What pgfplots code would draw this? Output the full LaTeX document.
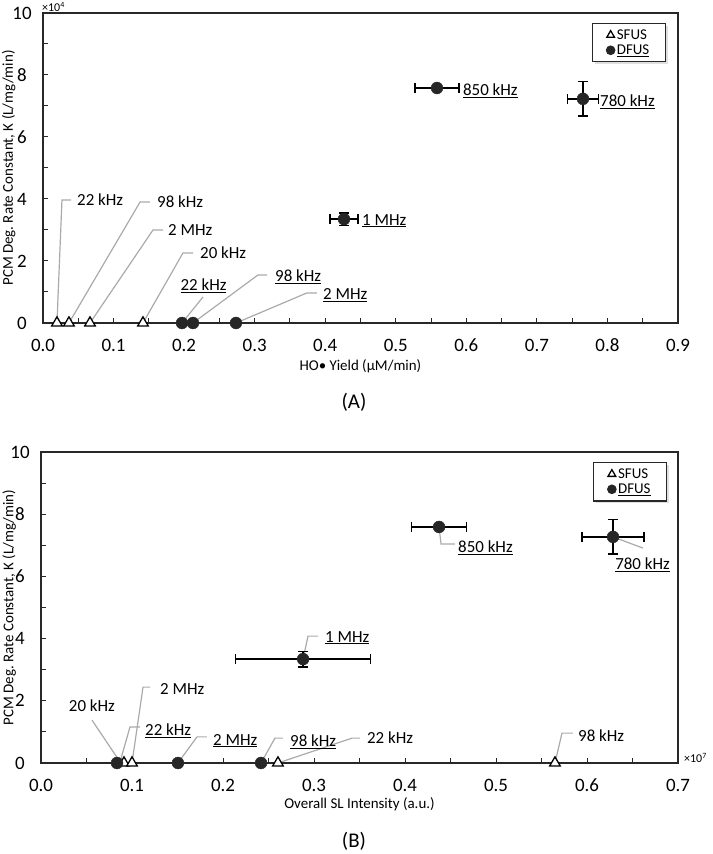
\documentclass[border=0pt]{standalone}
\usepackage{fontspec}
\setmainfont{Carlito}
\usepackage{pgfplots}
\pgfplotsset{compat=1.18}
\usetikzlibrary{shadows}
\frenchspacing
\definecolor{leader}{RGB}{170,170,170}
\definecolor{axcol}{RGB}{40,40,40}
\newcommand{\tfont}{\fontsize{19}{19}\selectfont}
\newcommand{\afont}{\fontsize{17}{17}\selectfont}
\newcommand{\lfont}{\fontsize{15}{15}\selectfont}
\tikzset{lab/.style={font=\afont, inner sep=0pt, text=black}}
\pgfplotsset{
  panel/.style={
    scale only axis, clip=false,
    ymin=0, ymax=10,
    ytick={0,2,4,6,8,10}, minor y tick num=1,
    minor x tick num=1,
    tick align=inside, tick pos=left,
    major tick length=5bp, minor tick length=5bp,
    every tick/.style={axcol, line width=1bp},
    axis line style={axcol, line width=1.3bp},
    /pgf/number format/assume math mode=true,
    tick label style={font=\tfont},
    xticklabel style={/pgf/number format/.cd, fixed, fixed zerofill, precision=1,
      /tikz/.cd, anchor=center, yshift=-22bp},
    yticklabel style={/pgf/number format/.cd, fixed, precision=0,
      /tikz/.cd, anchor=center, xshift=-21bp},
    label style={font=\lfont},
    xlabel style={anchor=center},
    ylabel style={anchor=center},
    legend cell align=left,
    legend style={draw=axcol, line width=1.2bp, fill=white, font=\lfont,
      drop shadow={opacity=0.25, shadow xshift=2.5bp, shadow yshift=-2.5bp},
      inner xsep=14bp, inner ysep=4bp, row sep=0bp},
  },
  lead/.style={forget plot, leader, line width=1.2bp, no markers},
  sfus/.style={only marks, mark=triangle*, mark size=6.2,
    mark options={fill=white, draw=black, line width=1.3bp},
    legend image code/.code={\draw[##1, mark size=4.5] plot coordinates {(0.1cm,0cm)};}},
  dfus/.style={only marks, mark=*, mark size=6,
    mark options={fill=black!85, draw=black!85},
    legend image code/.code={\draw[##1, mark size=4.2] plot coordinates {(0.1cm,0cm)};},
    error bars/.cd, x dir=both, x explicit, y dir=both, y explicit,
    error bar style={black, line width=1.3bp},
    error mark options={black, line width=1.3bp, mark size=5bp, rotate=90}},
}
\begin{document}
\begin{tikzpicture}
\useasboundingbox (0,0) rectangle (713bp,854bp);

% ---------------- Panel A ----------------
\begin{axis}[panel,
  at={(43bp,531bp)}, anchor=south west,
  width=635bp, height=310bp,
  xmin=0, xmax=0.9,
  xtick={0,0.1,0.2,0.3,0.4,0.5,0.6,0.7,0.8,0.9},
  xlabel={HO• Yield (µM/min)},
  ylabel={PCM Deg. Rate Constant, K (L/mg/min)},
  xlabel style={at={(axis description cs:0.5,-0.138)}},
  ylabel style={at={(axis description cs:-0.054,0.5)}},
  legend style={at={(0.981,0.968)}, anchor=north east},
]
\addplot[lead] coordinates {(0.0198,0) (0.0269,3.97) (0.0397,3.97)};
\addplot[lead] coordinates {(0.0368,0) (0.1375,3.90) (0.1516,3.90)};
\addplot[lead] coordinates {(0.0666,0) (0.1559,3.00) (0.1701,3.00)};
\addplot[lead] coordinates {(0.1417,0) (0.1984,2.26) (0.2126,2.26)};
\addplot[lead] coordinates {(0.197,0) (0.2268,0.84)};
\addplot[lead] coordinates {(0.2126,0) (0.3047,1.55) (0.3175,1.55)};
\addplot[lead] coordinates {(0.2735,0) (0.3741,0.97) (0.3883,0.97)};

\addplot[sfus] coordinates {(0.0198,0) (0.0368,0) (0.0666,0) (0.1417,0)};
\addlegendentry{SFUS}
\addplot[dfus] table[x=x, y=y, x error=ex, y error=ey] {
x      y     ex     ey
0.197  0     0      0
0.2126 0     0      0
0.2735 0     0      0
0.4266 3.35  0.020  0.20
0.5584 7.58  0.031  0.06
0.7653 7.23  0.022  0.55
};
\addlegendentry{\underline{DFUS}}

\node[lab, anchor=west] at (axis cs:0.0482,3.97) {22 kHz};
\node[lab, anchor=west] at (axis cs:0.1616,3.90) {98 kHz};
\node[lab, anchor=west] at (axis cs:0.1772,3.00) {2 MHz};
\node[lab, anchor=west] at (axis cs:0.2225,2.26) {20 kHz};
\node[lab, anchor=south] at (axis cs:0.2275,0.98) {\underline{22 kHz}};
\node[lab, anchor=west] at (axis cs:0.3288,1.48) {\underline{98 kHz}};
\node[lab, anchor=west] at (axis cs:0.3968,0.90) {\underline{2 MHz}};
\node[lab, anchor=west] at (axis cs:0.4521,3.30) {\underline{1 MHz}};
\node[lab, anchor=west] at (axis cs:0.5952,7.50) {\underline{850 kHz}};
\node[lab, anchor=west] at (axis cs:0.7894,7.14) {\underline{780 kHz}};
\end{axis}

% ---------------- Panel B ----------------
\begin{axis}[panel,
  at={(41bp,91bp)}, anchor=south west,
  width=637bp, height=311bp,
  xmin=0, xmax=0.7,
  xtick={0,0.1,0.2,0.3,0.4,0.5,0.6,0.7},
  xlabel={Overall SL Intensity (a.u.)},
  ylabel={PCM Deg. Rate Constant, K (L/mg/min)},
  xlabel style={at={(axis description cs:0.5,-0.131)}},
  ylabel style={at={(axis description cs:-0.050,0.5)}},
  legend style={at={(0.983,0.968)}, anchor=north east},
]
\addplot[lead] coordinates {(0.4374,7.59) (0.4396,7.04) (0.4549,7.04)};
\addplot[lead] coordinates {(0.6286,7.27) (0.6615,6.91)};
\addplot[lead] coordinates {(0.288,3.34) (0.2934,4.08) (0.3044,4.08)};
\addplot[lead] coordinates {(0.100,0) (0.1121,2.44) (0.1198,2.44)};
\addplot[lead] coordinates {(0.0865,0.05) (0.056,1.38)};
\addplot[lead] coordinates {(0.0868,0.03) (0.0978,1.16) (0.1088,1.16)};
\addplot[lead] coordinates {(0.1505,0) (0.1714,0.84) (0.1824,0.84)};
\addplot[lead] coordinates {(0.2418,0) (0.2571,0.80) (0.2659,0.80)};
\addplot[lead] coordinates {(0.2604,0) (0.3418,0.80) (0.3505,0.80)};
\addplot[lead] coordinates {(0.5648,0) (0.5725,0.96) (0.5846,0.96)};

\addplot[sfus] coordinates {(0.0912,0) (0.100,0) (0.2604,0) (0.5648,0)};
\addlegendentry{SFUS}
\addplot[dfus] table[x=x, y=y, x error=ex, y error=ey] {
x      y     ex     ey
0.0835 0     0      0
0.1505 0     0      0
0.2418 0     0      0
0.288  3.34  0.074  0.25
0.4374 7.59  0.030  0.06
0.6286 7.27  0.034  0.55
};
\addlegendentry{\underline{DFUS}}

\node[lab, anchor=west] at (axis cs:0.4582,6.93) {\underline{850 kHz}};
\node[lab, anchor=center] at (axis cs:0.661,6.38) {\underline{780 kHz}};
\node[lab, anchor=west] at (axis cs:0.3121,4.03) {\underline{1 MHz}};
\node[lab, anchor=west] at (axis cs:0.1308,2.38) {2 MHz};
\node[lab, anchor=center] at (axis cs:0.056,1.83) {20 kHz};
\node[lab, anchor=west] at (axis cs:0.1143,1.04) {\underline{22 kHz}};
\node[lab, anchor=west] at (axis cs:0.189,0.72) {\underline{2 MHz}};
\node[lab, anchor=west] at (axis cs:0.2736,0.69) {\underline{98 kHz}};
\node[lab, anchor=west] at (axis cs:0.3582,0.80) {22 kHz};
\node[lab, anchor=west] at (axis cs:0.5901,0.87) {98 kHz};
\end{axis}

% scale factors and panel labels
\node[anchor=south west, inner sep=0pt, font=\fontsize{12}{12}\selectfont] at (42bp,842bp) {×10\textsuperscript{4}};
\node[anchor=west, inner sep=0pt, font=\fontsize{12}{12}\selectfont] at (684bp,96bp) {×10\textsuperscript{7}};
\node[font=\fontsize{21}{21}\selectfont] at (354bp,452bp) {(A)};
\node[font=\fontsize{21}{21}\selectfont] at (354bp,13bp) {(B)};
\end{tikzpicture}
\end{document}
